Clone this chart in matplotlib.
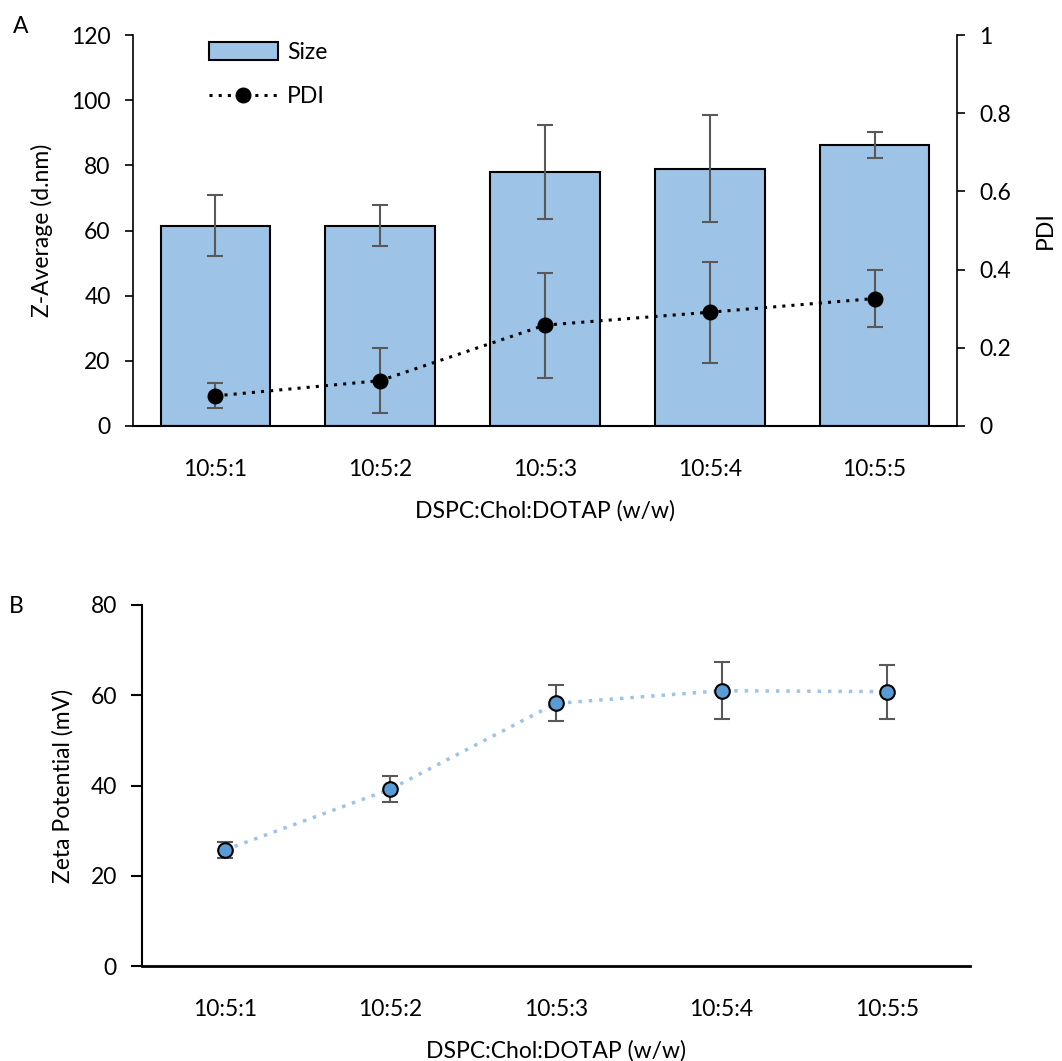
import numpy as np
import matplotlib
matplotlib.use("Agg")
import matplotlib.pyplot as plt

plt.rcParams['font.family'] = ['Lato', 'DejaVu Sans']
plt.rcParams['font.size'] = 16.5

# data
ratios = ["10:5:1", "10:5:2", "10:5:3", "10:5:4", "10:5:5"]
size_nm = [61.5, 61.5, 78.0, 79.0, 86.2]
size_err = [9.3, 6.3, 14.5, 16.5, 4.0]
pdi = [0.077, 0.116, 0.258, 0.291, 0.326]
pdi_err = [0.032, 0.083, 0.134, 0.129, 0.074]
zeta = [25.7, 39.2, 58.2, 61.0, 60.8]
zeta_err = [1.8, 2.9, 4.0, 6.3, 6.0]

x = np.arange(len(ratios))
grey = "#595959"

fig = plt.figure(figsize=(10.62, 10.61), dpi=100)

# ---- panel A ----
ax = fig.add_axes([0.1252, 0.5985, 0.9011 - 0.1252, 0.967 - 0.5985])
bars = ax.bar(x, size_nm, width=0.665, color="#9DC3E6", edgecolor="black",
              linewidth=1.5, label="Size", zorder=2)
ax.errorbar(x, size_nm, yerr=size_err, fmt="none", ecolor=grey, elinewidth=1.5,
            capsize=6, capthick=1.5, zorder=3)
ax.set_xlim(-0.5, 4.5)
ax.set_ylim(0, 120)
ax.set_yticks(range(0, 121, 20))
ax.set_xticks(x)
ax.set_xticklabels(ratios)
ax.tick_params(axis="x", length=0, pad=24)
ax.tick_params(axis="y", direction="out", length=6, width=1.2, pad=10)
ax.set_ylabel("Z-Average (d.nm)", labelpad=13)
ax.set_xlabel("DSPC:Chol:DOTAP (w/w)", labelpad=14)
for s in ["top", "right"]:
    ax.spines[s].set_visible(False)
ax.spines["left"].set_linewidth(1.2)
ax.spines["bottom"].set_linewidth(1.5)

ax2 = ax.twinx()
ax2.errorbar(x, pdi, yerr=pdi_err, fmt="none", ecolor=grey, elinewidth=1.5,
             capsize=6, capthick=1.5, zorder=3)
line, = ax2.plot(x, pdi, linestyle=(0, (1, 2)), color="black", linewidth=2.2,
                 marker="o", markersize=10.5, markerfacecolor="black",
                 markeredgecolor="black", label="PDI", zorder=4)
ax2.set_ylim(0, 1)
ax2.set_yticks([0, 0.2, 0.4, 0.6, 0.8, 1])
ax2.set_yticklabels(["0", "0.2", "0.4", "0.6", "0.8", "1"])
ax2.tick_params(axis="y", direction="out", length=6, width=1.2, pad=10)
ax2.set_ylabel("PDI", labelpad=17)
for s in ["top", "left", "bottom"]:
    ax2.spines[s].set_visible(False)
ax2.spines["right"].set_linewidth(1.2)

ax.legend([bars, line], ["Size", "PDI"], loc="upper left",
          bbox_to_anchor=(0.067, 1.035), frameon=False, handlelength=3.0,
          handleheight=0.8, handletextpad=0.4, labelspacing=1.0)
fig.text(0.012, 0.975, "A", fontsize=16.5, va="center")

# ---- panel B ----
bx = fig.add_axes([0.1337, 0.0895, 0.9134 - 0.1337, 0.4298 - 0.0895])
bx.plot(x, zeta, linestyle=(0, (1, 2)), color="#9DC3E6", linewidth=2.5, zorder=2)
bx.errorbar(x, zeta, yerr=zeta_err, fmt="none", ecolor=grey, elinewidth=1.5,
            capsize=6, capthick=1.5, zorder=3)
bx.plot(x, zeta, linestyle="none", marker="o", markersize=10.5,
        markerfacecolor="#5B9BD5", markeredgecolor="black", markeredgewidth=1.5,
        zorder=4)
bx.set_xlim(-0.5, 4.5)
bx.set_ylim(0, 80)
bx.set_yticks(range(0, 81, 20))
bx.set_xticks(x)
bx.set_xticklabels(ratios)
bx.tick_params(axis="x", length=0, pad=24)
bx.tick_params(axis="y", direction="out", length=8, width=1.5, pad=10)
bx.set_ylabel("Zeta Potential (mV)", labelpad=12)
bx.set_xlabel("DSPC:Chol:DOTAP (w/w)", labelpad=14)
for s in ["top", "right"]:
    bx.spines[s].set_visible(False)
bx.spines["left"].set_linewidth(1.5)
bx.spines["bottom"].set_linewidth(2.0)
fig.text(0.008, 0.428, "B", fontsize=16.5, va="center")

fig.savefig("out.png", dpi=100)
